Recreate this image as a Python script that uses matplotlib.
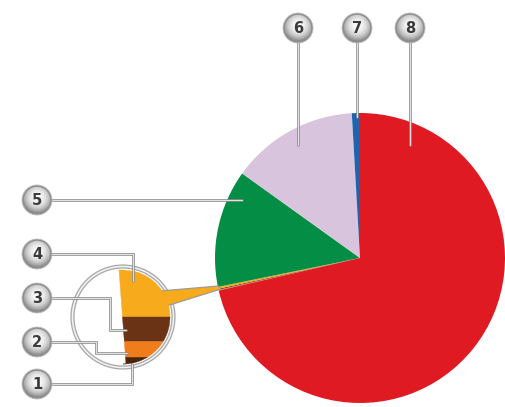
import numpy as np
import matplotlib
matplotlib.use('Agg')
import matplotlib.pyplot as plt
from matplotlib.patches import Circle, Polygon

# ---- data ----
labels = ['1', '2', '3', '4', '5', '6', '7', '8']
values = [0.03, 0.07, 0.11, 0.21, 13.1, 14.2, 0.9, 71.4]
colors = ['#4e230c', '#ef7d1b', '#6b3316', '#f6aa1c', '#048d45', '#d8c4dc', '#1d63ad', '#e01a22']

W, H = 506, 407
fig = plt.figure(figsize=(W / 100, H / 100), dpi=100)
ax = fig.add_axes([0, 0, 1, 1])


def Y(y):
    return H - y


PX = 0.72  # points per pixel

# ---- main pie ----
cx, cy, R = 360, Y(258), 145
total = sum(values)
start = 90 - 360 * values[7] / total
ax.pie(values, colors=colors, startangle=start, counterclock=False,
       center=(cx, cy), radius=R, wedgeprops=dict(linewidth=0), frame=True)

# ---- magnified inset of small slices ----
icx, icy, ir = 123, 317, 47
# outline rings
for rr in (50.5,):
    ax.add_patch(Circle((icx, Y(icy)), rr, fill=False, ec='#a9a9a9', lw=4.2 * PX, zorder=3))
    ax.add_patch(Circle((icx, Y(icy)), rr, fill=False, ec='#f2f2f2', lw=1.6 * PX, zorder=3))

# tail pointing to small wedge
tail = [(160, 291), (218, 286), (221, 289), (160, 308)]
ax.add_patch(Polygon([(x, Y(y)) for x, y in tail], closed=True, fc=colors[3],
                     ec='#9a9a9a', lw=1.2 * PX, zorder=4))


def left_x(y):
    return 119 + (y - 270) * (126 - 119) / (364 - 270)


top_y, bot_y = 270, 364
small = [values[3], values[2], values[1], values[0]]
small_c = [colors[3], colors[2], colors[1], colors[0]]
bounds = np.concatenate([[0], np.cumsum(small)]) / sum(small) * (bot_y - top_y) + top_y
for i in range(4):
    ys = np.linspace(bounds[i], bounds[i + 1], 40)
    rx = icx + np.sqrt(np.clip(ir ** 2 - (ys - icy) ** 2, 0, None))
    lx = left_x(ys)
    pts = [(x, Y(y)) for x, y in zip(rx, ys)] + [(x, Y(y)) for x, y in zip(lx[::-1], ys[::-1])]
    ax.add_patch(Polygon(pts, closed=True, fc=small_c[i], ec=small_c[i], lw=0.3, zorder=5))

# ---- leader lines ----
leaders = {
    '5': [(52, 200), (242, 200)],
    '6': [(298, 43), (298, 145)],
    '7': [(357, 43), (357, 117)],
    '8': [(410, 43), (410, 145)],
    '4': [(52, 254), (133, 254), (133, 281)],
    '3': [(52, 298), (110, 298), (110, 330), (126, 330)],
    '2': [(52, 342), (96, 342), (96, 353), (127, 353)],
    '1': [(52, 384), (132, 384), (132, 364)],
}
for k, pts in leaders.items():
    xs = [p[0] for p in pts]
    ys = [Y(p[1]) for p in pts]
    ax.plot(xs, ys, color='#8c8c8c', lw=2.6 * PX, solid_capstyle='round',
            solid_joinstyle='miter', zorder=6)
    ax.plot(xs, ys, color='#ececec', lw=0.9 * PX, solid_capstyle='round',
            solid_joinstyle='miter', zorder=6)

# ---- bubbles ----
bubbles = {
    '1': (37, 384), '2': (37, 342), '3': (37, 298), '4': (37, 254),
    '5': (37, 200), '6': (298, 28), '7': (357, 28), '8': (410, 28),
}
n = 64
g = np.linspace(-1, 1, n)
gx, gy = np.meshgrid(g, g)
d = np.sqrt(gx ** 2 + (gy + 0.15) ** 2)
shade = np.clip(0.98 - 0.32 * d ** 2.2, 0, 1)
for k, (bx, by) in bubbles.items():
    rim = Circle((bx, Y(by)), 15, fc='#8f8f8f', ec='#bdbdbd', lw=0.8 * PX, zorder=7)
    ax.add_patch(rim)
    rr = 13.2
    im = ax.imshow(shade, cmap='gray', vmin=0, vmax=1, origin='upper',
                   extent=(bx - rr, bx + rr, Y(by) - rr, Y(by) + rr),
                   interpolation='bilinear', zorder=8)
    clip = Circle((bx, Y(by)), rr, transform=ax.transData)
    im.set_clip_path(clip)
    ax.text(bx, Y(by) - 0.5, k, ha='center', va='center', fontsize=10.5,
            fontweight='bold', color='#3a3a3a', zorder=9)

ax.set_xlim(0, W)
ax.set_ylim(0, H)
ax.set_aspect('auto')
ax.axis('off')
fig.savefig('out.png', dpi=100, facecolor='white')
